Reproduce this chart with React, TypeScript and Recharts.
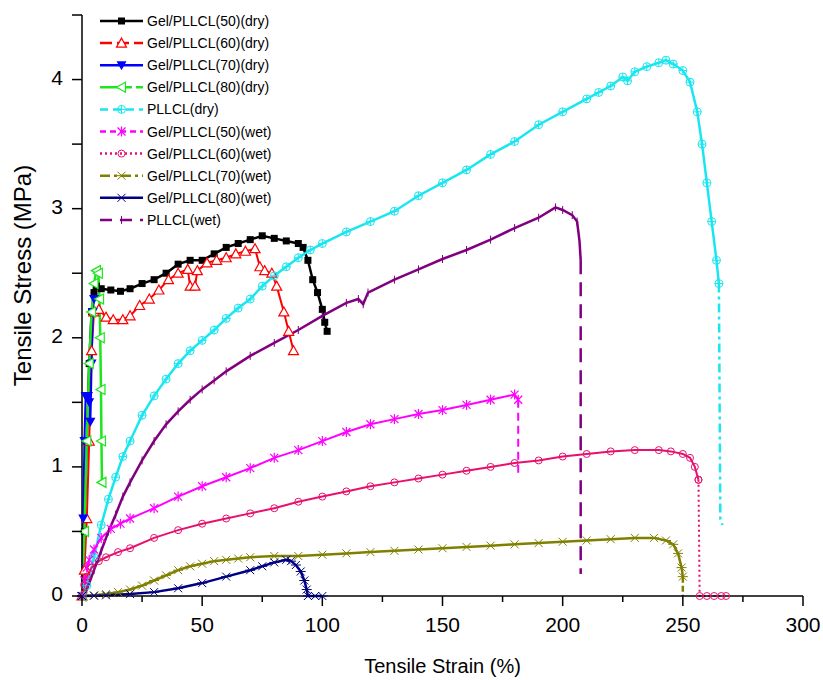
import { LineChart, Line, XAxis, YAxis, Legend, Label } from "recharts";

type Pt = [number, number];

// strain (%) , stress (MPa)
const gel50Dry: Pt[] = [
  [0, 0], [1, 0.5], [2, 1.2], [3, 1.8], [4, 2.2], [5, 2.35], [6, 2.4], [8, 2.38], [12, 2.37],
  [16, 2.36], [20, 2.38], [25, 2.42], [30, 2.45], [35, 2.5], [40, 2.57], [45, 2.6], [50, 2.6],
  [55, 2.65], [60, 2.7], [65, 2.73], [70, 2.76], [75, 2.79], [80, 2.77], [85, 2.75], [90, 2.73],
  [92, 2.7], [94, 2.6], [96, 2.45], [98, 2.35], [100, 2.22], [101, 2.12], [102, 2.05],
];
const gel60Dry: Pt[] = [
  [0, 0], [1, 0.2], [2, 0.6], [3, 1.2], [4, 1.9], [5, 2.2], [7, 2.22], [10, 2.16], [13, 2.14],
  [17, 2.14], [20, 2.17], [24, 2.25], [28, 2.3], [32, 2.37], [36, 2.45], [40, 2.5], [44, 2.53],
  [45, 2.4], [47, 2.4], [48, 2.52], [52, 2.58], [56, 2.6], [60, 2.62], [64, 2.65], [68, 2.67],
  [72, 2.69], [74, 2.55], [76, 2.52], [79, 2.5], [81, 2.4], [84, 2.2], [86, 2.05], [88, 1.9],
];
const gel70Dry: Pt[] = [
  [0, 0], [0.5, 0.6], [1, 1.2], [1.5, 1.55], [2.5, 1.55], [3, 1.5], [3.5, 1.35], [4, 1.8],
  [4.5, 2.2], [5, 2.3],
];
const gel80Dry: Pt[] = [
  [0, 0], [1, 0.5], [2, 1.2], [3, 1.8], [4, 2.2], [5, 2.42], [6, 2.52], [6.8, 2.5], [7.3, 2.3],
  [7.6, 2.0], [7.9, 1.6], [8.1, 1.2], [8.3, 0.88],
];
const pllclDry: Pt[] = [
  [0, 0], [2, 0.08], [5, 0.3], [8, 0.55], [11, 0.75], [14, 0.92], [17, 1.08], [20, 1.2],
  [25, 1.4], [30, 1.55], [35, 1.68], [40, 1.8], [45, 1.9], [50, 1.98], [55, 2.06], [60, 2.15],
  [65, 2.23], [70, 2.3], [75, 2.4], [80, 2.48], [85, 2.55], [90, 2.62], [95, 2.68], [100, 2.73],
  [110, 2.82], [120, 2.9], [130, 2.98], [140, 3.1], [150, 3.2], [160, 3.3], [170, 3.42],
  [180, 3.52], [190, 3.65], [200, 3.75], [210, 3.85], [215, 3.9], [220, 3.95], [225, 4.02],
  [227, 3.99], [230, 4.06], [235, 4.1], [240, 4.13], [243, 4.15], [246, 4.12], [250, 4.07],
  [253, 3.98], [256, 3.75], [258, 3.5], [260, 3.2], [262, 2.9], [264, 2.6], [265, 2.42],
];
const pllclDryTail: Pt[] = [[265, 2.42], [265.6, 0.6], [266.5, 0.55]];

const gel50Wet: Pt[] = [
  [0, 0], [1, 0.12], [2, 0.22], [3, 0.28], [5, 0.36], [8, 0.45], [12, 0.52], [16, 0.56],
  [20, 0.6], [30, 0.68], [40, 0.77], [50, 0.85], [60, 0.92], [70, 0.99], [80, 1.07], [90, 1.13],
  [100, 1.2], [110, 1.27], [120, 1.33], [130, 1.37], [140, 1.41], [150, 1.44], [160, 1.48],
  [170, 1.52], [180, 1.56], [181.5, 1.52],
];
const gel50WetTail: Pt[] = [[181.5, 1.52], [181.5, 0.92]];
const gel60Wet: Pt[] = [
  [0, 0], [1, 0.08], [2, 0.15], [4, 0.22], [7, 0.27], [10, 0.3], [15, 0.34], [20, 0.37],
  [30, 0.45], [40, 0.51], [50, 0.56], [60, 0.6], [70, 0.64], [80, 0.68], [90, 0.73], [100, 0.77],
  [110, 0.81], [120, 0.85], [130, 0.88], [140, 0.91], [150, 0.94], [160, 0.97], [170, 1.0],
  [180, 1.03], [190, 1.05], [200, 1.08], [210, 1.1], [220, 1.12], [230, 1.13], [240, 1.13],
  [245, 1.12], [250, 1.1], [253, 1.07], [255, 1.0], [256.5, 0.9],
];
const gel60WetTail: Pt[] = [[256.5, 0.9], [257, 0], [260, 0], [263, 0], [266, 0], [268, 0]];
const gel70Wet: Pt[] = [
  [0, 0], [5, 0.005], [10, 0.015], [15, 0.03], [20, 0.05], [25, 0.08], [30, 0.12], [35, 0.16],
  [40, 0.2], [45, 0.23], [50, 0.25], [55, 0.27], [60, 0.28], [65, 0.29], [70, 0.3], [80, 0.31],
  [90, 0.31], [100, 0.32], [110, 0.33], [120, 0.34], [130, 0.35], [140, 0.36], [150, 0.37],
  [160, 0.38], [170, 0.39], [180, 0.4], [190, 0.41], [200, 0.42], [210, 0.43], [220, 0.44],
  [230, 0.45], [238, 0.45], [243, 0.43], [246, 0.4], [248, 0.33], [249.5, 0.22], [250, 0.15],
];
const gel70WetTail: Pt[] = [[250, 0.15], [250, 0]];
const gel80Wet: Pt[] = [
  [0, 0], [5, 0.002], [10, 0.005], [20, 0.015], [30, 0.03], [40, 0.06], [50, 0.1], [60, 0.15],
  [70, 0.2], [75, 0.23], [80, 0.26], [85, 0.28], [87, 0.27], [89, 0.24], [91, 0.19],
  [92.5, 0.12], [93.5, 0.05], [94, 0], [97, 0], [100, 0],
];
const pllclWet: Pt[] = [
  [0, 0], [2, 0.05], [5, 0.2], [8, 0.35], [11, 0.5], [14, 0.63], [17, 0.77], [20, 0.88],
  [25, 1.05], [30, 1.2], [35, 1.33], [40, 1.43], [45, 1.52], [50, 1.6], [55, 1.67], [60, 1.74],
  [70, 1.86], [80, 1.96], [90, 2.06], [100, 2.17], [110, 2.27], [115, 2.3], [117, 2.26],
  [119, 2.35], [130, 2.45], [140, 2.53], [150, 2.61], [160, 2.68], [170, 2.76], [180, 2.85],
  [190, 2.93], [197, 3.01], [200, 2.99], [204, 2.95], [206, 2.9], [207, 2.75], [207.5, 2.6],
];
const pllclWetTail: Pt[] = [[207.5, 2.6], [207.5, 0.17]];

const xTicks = [0, 25, 50, 75, 100, 125, 150, 175, 200, 225, 250, 275, 300];
const yTicks = [0, 0.5, 1, 1.5, 2, 2.5, 3, 3.5, 4, 4.5];

const FONT = '"Liberation Sans", Arial, Helvetica, sans-serif';

type MarkerKind =
  | "square" | "triUp" | "triDown" | "triLeft" | "circleCross"
  | "star" | "circle" | "xbar" | "asterisk" | "bar";

interface Series {
  name: string;
  body: Pt[];
  tail?: Pt[];
  color: string;
  marker: MarkerKind;
  width: number;
  tailDash?: string;
  legendDash?: string;
  tailDots?: boolean;
}

const SERIES: Series[] = [
  { name: "Gel/PLLCL(50)(dry)", body: gel50Dry, color: "#000000", marker: "square", width: 2.5 },
  { name: "Gel/PLLCL(60)(dry)", body: gel60Dry, color: "#ff0000", marker: "triUp", width: 2, legendDash: "12 5" },
  { name: "Gel/PLLCL(70)(dry)", body: gel70Dry, color: "#0000ff", marker: "triDown", width: 2 },
  { name: "Gel/PLLCL(80)(dry)", body: gel80Dry, color: "#1ee61e", marker: "triLeft", width: 2.5, legendDash: "22 4 6 4" },
  { name: "PLLCL(dry)", body: pllclDry, tail: pllclDryTail, color: "#19e6f0", marker: "circleCross", width: 2.5, tailDash: "9 4 3 4", legendDash: "8 5" },
  { name: "Gel/PLLCL(50)(wet)", body: gel50Wet, tail: gel50WetTail, color: "#ff00ff", marker: "star", width: 2, tailDash: "8 5", legendDash: "6 4" },
  { name: "Gel/PLLCL(60)(wet)", body: gel60Wet, tail: gel60WetTail, color: "#e8106e", marker: "circle", width: 2, tailDash: "2 3", legendDash: "2 3", tailDots: true },
  { name: "Gel/PLLCL(70)(wet)", body: gel70Wet, tail: gel70WetTail, color: "#808000", marker: "xbar", width: 2.5, tailDash: "6 3", legendDash: "10 4 3 4" },
  { name: "Gel/PLLCL(80)(wet)", body: gel80Wet, color: "#000080", marker: "asterisk", width: 2.5 },
  { name: "PLLCL(wet)", body: pllclWet, tail: pllclWetTail, color: "#800080", marker: "bar", width: 2.5, tailDash: "14 8", legendDash: "12 8" },
];

const toRows = (pts: Pt[]) => pts.map(([x, y]) => ({ x, y }));

function Marker({ kind, cx, cy, color }: { kind: MarkerKind; cx: number; cy: number; color: string }) {
  const sw = 1.2;
  switch (kind) {
    case "square":
      return <rect x={cx - 3.5} y={cy - 3.5} width={7} height={7} fill={color} />;
    case "triUp":
      return <polygon points={`${cx},${cy - 5} ${cx + 5},${cy + 4} ${cx - 5},${cy + 4}`} fill="#fff" stroke={color} strokeWidth={sw} />;
    case "triDown":
      return <polygon points={`${cx - 5},${cy - 4} ${cx + 5},${cy - 4} ${cx},${cy + 5}`} fill={color} />;
    case "triLeft":
      return <polygon points={`${cx - 5},${cy} ${cx + 4},${cy - 5} ${cx + 4},${cy + 5}`} fill="#fff" stroke={color} strokeWidth={sw} />;
    case "circleCross":
      return (
        <g stroke={color} strokeWidth={1} fill="none">
          <circle cx={cx} cy={cy} r={4} />
          <line x1={cx - 4} x2={cx + 4} y1={cy} y2={cy} />
          <line x1={cx} x2={cx} y1={cy - 4} y2={cy + 4} />
        </g>
      );
    case "star":
      return (
        <g stroke={color} strokeWidth={1.2}>
          <line x1={cx - 4} x2={cx + 4} y1={cy - 4} y2={cy + 4} />
          <line x1={cx - 4} x2={cx + 4} y1={cy + 4} y2={cy - 4} />
          <line x1={cx} x2={cx} y1={cy - 5} y2={cy + 5} />
        </g>
      );
    case "circle":
      return <circle cx={cx} cy={cy} r={3.5} fill="none" stroke={color} strokeWidth={1} />;
    case "xbar":
    case "asterisk":
      return (
        <g stroke={color} strokeWidth={1}>
          <line x1={cx - 4} x2={cx + 4} y1={cy - 4} y2={cy + 4} />
          <line x1={cx - 4} x2={cx + 4} y1={cy + 4} y2={cy - 4} />
          <line x1={cx - 5} x2={cx + 5} y1={cy} y2={cy} />
        </g>
      );
    case "bar":
      return <line x1={cx} x2={cx} y1={cy - 4} y2={cy + 4} stroke={color} strokeWidth={1} />;
  }
  return null;
}

function makeDot(s: Series) {
  return (p: any) => {
    if (p.cx == null || p.cy == null) return <g key={p.index} />;
    return (
      <g key={p.index}>
        <Marker kind={s.marker} cx={p.cx} cy={p.cy} color={s.color} />
      </g>
    );
  };
}

function XTick({ x, y, payload }: any) {
  const v = payload.value;
  const major = v % 50 === 0;
  return (
    <g>
      <line x1={x} x2={x} y1={y} y2={y + (major ? 10 : 6)} stroke="#000" strokeWidth={1.5} />
      {major && (
        <text x={x} y={y + 36} textAnchor="middle" fontSize={21} fontFamily={FONT} fill="#000">
          {v}
        </text>
      )}
    </g>
  );
}

function YTick({ x, y, payload }: any) {
  const v = payload.value;
  const major = Number.isInteger(v);
  return (
    <g>
      <line x1={x - 10} x2={x} y1={y} y2={y} stroke="#000" strokeWidth={1.5} />
      {major && (
        <text x={x - 19} y={y} dy="0.25em" textAnchor="end" fontSize={21} fontFamily={FONT} fill="#000">
          {v}
        </text>
      )}
    </g>
  );
}

function LegendBox() {
  const rowGap = 22.1;
  return (
    <svg width={200} height={230} style={{ display: "block" }}>
      {SERIES.map((s, i) => {
        const cy = 13 + i * rowGap;
        return (
          <g key={s.name}>
            <line x1={4} x2={47} y1={cy} y2={cy} stroke={s.color} strokeWidth={2.5} strokeDasharray={s.legendDash} />
            <Marker kind={s.marker} cx={25.5} cy={cy} color={s.color} />
            <text x={51} y={cy} dy="0.36em" fontSize={14} fontFamily={FONT} fill="#000">
              {s.name}
            </text>
          </g>
        );
      })}
    </svg>
  );
}

export default function App() {
  return (
    <div style={{ position: "absolute", left: 0, top: 0, width: 823, height: 680, background: "#fff" }}>
      <LineChart width={823} height={680} margin={{ top: 15, right: 20, bottom: 4, left: 10 }}>
        <XAxis
          type="number"
          dataKey="x"
          domain={[0, 300]}
          ticks={xTicks}
          interval={0}
          height={80}
          tickSize={0}
          tickMargin={0}
          tickLine={false}
          tick={<XTick />}
          axisLine={{ stroke: "#000", strokeWidth: 1.5 }}
        >
          <Label
            content={({ viewBox }: any) => (
              <text
                x={viewBox.x + viewBox.width / 2}
                y={viewBox.y + 77}
                textAnchor="middle"
                fontSize={20}
                fontFamily={FONT}
                fill="#000"
              >
                Tensile Strain (%)
              </text>
            )}
          />
        </XAxis>
        <YAxis
          type="number"
          dataKey="y"
          domain={[0, 4.5]}
          ticks={yTicks}
          interval={0}
          width={72}
          tickSize={0}
          tickMargin={0}
          tickLine={false}
          tick={<YTick />}
          axisLine={{ stroke: "#000", strokeWidth: 1.5 }}
        >
          <Label
            content={({ viewBox }: any) => {
              const cx = viewBox.x + 12;
              const cy = viewBox.y + viewBox.height / 2 - 30;
              return (
                <text
                  x={cx}
                  y={cy}
                  transform={`rotate(-90, ${cx}, ${cy})`}
                  textAnchor="middle"
                  dominantBaseline="central"
                  fontSize={24}
                  fontFamily={FONT}
                  fill="#000"
                >
                  Tensile Stress (MPa)
                </text>
              );
            }}
          />
        </YAxis>
        <Legend
          layout="vertical"
          align="center"
          verticalAlign="middle"
          content={() => <LegendBox />}
          wrapperStyle={{ left: 96, top: 8, width: 200, height: 230 }}
        />
        {SERIES.map((s) => (
          <Line
            key={s.name}
            data={toRows(s.body)}
            dataKey="y"
            name={s.name}
            type="linear"
            stroke={s.color}
            strokeWidth={s.width}
            dot={makeDot(s)}
            activeDot={false}
            legendType="none"
            isAnimationActive={false}
          />
        ))}
        {SERIES.filter((s) => s.tail).map((s) => (
          <Line
            key={s.name + "-tail"}
            data={toRows(s.tail as Pt[])}
            dataKey="y"
            name={s.name + " tail"}
            type="linear"
            stroke={s.color}
            strokeWidth={s.width}
            strokeDasharray={s.tailDash}
            dot={s.tailDots ? makeDot(s) : false}
            activeDot={false}
            legendType="none"
            isAnimationActive={false}
          />
        ))}
      </LineChart>
    </div>
  );
}
